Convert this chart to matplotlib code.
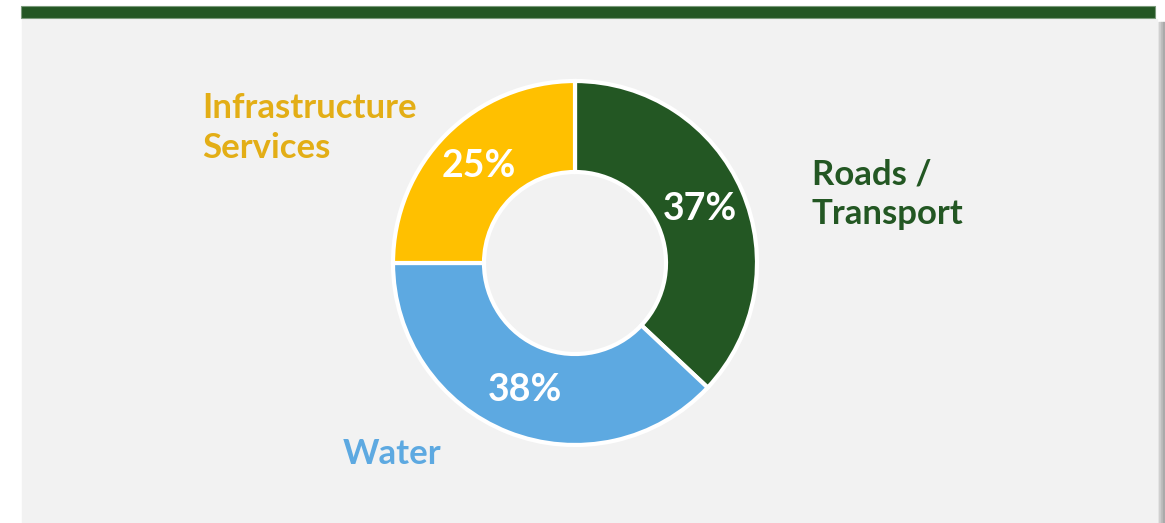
import matplotlib.pyplot as plt
from matplotlib.patches import Rectangle

# data
labels = ['Roads /\nTransport', 'Water', 'Infrastructure\nServices']
values = [37, 38, 25]
colors = ['#235723', '#5DA9E1', '#FFC000']
label_colors = ['#235723', '#5DA9E1', '#E3AE16']

plt.rcParams['font.family'] = ['Lato', 'DejaVu Sans']

W, H = 1165, 523
fig = plt.figure(figsize=(W / 100, H / 100), dpi=100)
fig.patch.set_facecolor('white')
ax = fig.add_axes([0, 0, 1, 1])

# background panel + shadow + top bar
for i, c in enumerate(['#e6e6e6', '#d0d0d0', '#bdbdbd', '#aaaaaa']):
    ax.add_patch(Rectangle((1157 + i * 2, -5), 2, H - 17, color=c, zorder=0))
ax.add_patch(Rectangle((22, -5), 1135, H - 14, color='#F2F2F2', zorder=1))
ax.add_patch(Rectangle((21, H - 18), 1134, 12, facecolor='#235723',
                       edgecolor='#7a9a7a', linewidth=0.8, zorder=2))

# donut
wedges, _, pcts = ax.pie(values, colors=colors, startangle=90, counterclock=False,
                         center=(575, 260), radius=182, autopct='%.0f%%',
                         pctdistance=0.75,
                         wedgeprops=dict(width=91, edgecolor='white', linewidth=3),
                         textprops=dict(color='white', fontsize=27, fontweight='bold'),
                         frame=True)
for w in wedges:
    w.set_zorder(3)
for t in pcts:
    t.set_zorder(4)
ax.set_xlim(0, W)
ax.set_ylim(0, H)
ax.set_aspect('equal')
ax.axis('off')

# outer category labels
label_pos = [(812, H - 194), (343, H - 454), (202, H - 128)]
for lab, col, (x, y) in zip(labels, label_colors, label_pos):
    ax.text(x, y, lab, color=col, fontsize=25, fontweight='bold',
            ha='left', va='center', linespacing=1.27, zorder=4)

fig.savefig('out.png', dpi=100)
